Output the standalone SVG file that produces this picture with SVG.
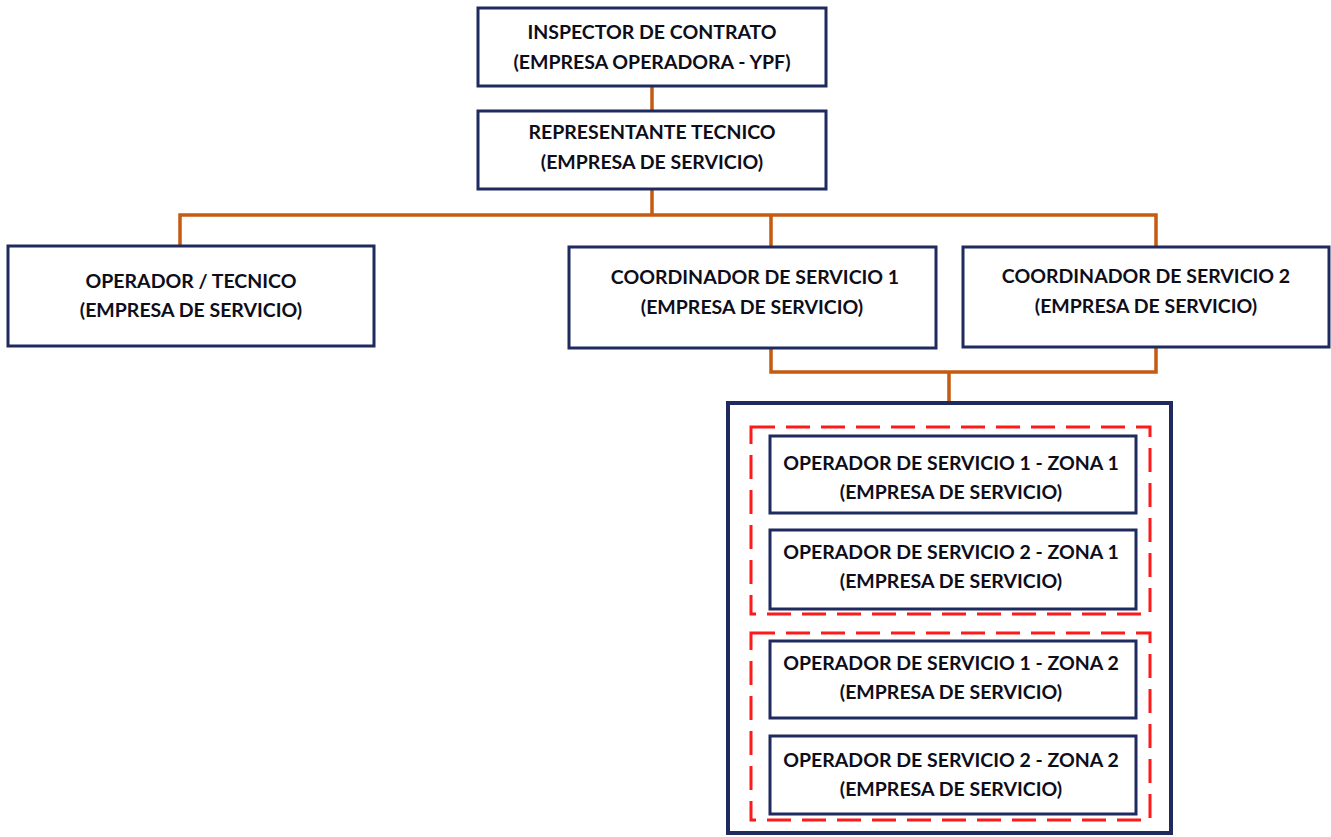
<svg xmlns="http://www.w3.org/2000/svg" width="1331" height="837" viewBox="0 0 1331 837">
  <style>
    .box { fill: #ffffff; stroke: #1f2a5e; stroke-width: 3; }
    .outer { fill: #ffffff; stroke: #1f2a5e; stroke-width: 4; }
    .zone { fill: none; stroke: #ff1a1a; stroke-width: 3; stroke-dasharray: 24 11; }
    .link { fill: none; stroke: #c55a11; stroke-width: 3.5; }
    text { font-family: Lato, "Open Sans", sans-serif; font-weight: bold; font-size: 19.5px; fill: #0e0e1a; text-anchor: middle; }
  </style>
  <rect width="1331" height="837" fill="#ffffff"/>

  <g id="connectors">
    <path class="link" d="M652 86 V111"/>
    <path class="link" d="M652 189 V215 M180 246 V215 H1156 V247 M771 215 V247"/>
    <path class="link" d="M771 348 V372 H1156 V347 M949 372 V403"/>
  </g>

  <g id="inspector">
    <rect class="box" x="478" y="8" width="348" height="78"/>
    <text x="652" y="39">INSPECTOR DE CONTRATO</text>
    <text x="652" y="69">(EMPRESA OPERADORA - YPF)</text>
  </g>
  <g id="representante">
    <rect class="box" x="478" y="111" width="348" height="78"/>
    <text x="652" y="139">REPRESENTANTE TECNICO</text>
    <text x="652" y="169">(EMPRESA DE SERVICIO)</text>
  </g>
  <g id="operador-tecnico">
    <rect class="box" x="8" y="246" width="366" height="100"/>
    <text x="191" y="288">OPERADOR / TECNICO</text>
    <text x="191" y="317">(EMPRESA DE SERVICIO)</text>
  </g>
  <g id="coordinador-1">
    <rect class="box" x="569" y="247" width="367" height="101"/>
    <text x="755" y="284">COORDINADOR DE SERVICIO 1</text>
    <text x="752" y="314">(EMPRESA DE SERVICIO)</text>
  </g>
  <g id="coordinador-2">
    <rect class="box" x="963" y="247" width="366" height="100"/>
    <text x="1146" y="283">COORDINADOR DE SERVICIO 2</text>
    <text x="1146" y="313">(EMPRESA DE SERVICIO)</text>
  </g>

  <g id="operadores">
    <rect class="outer" x="728" y="403" width="443" height="430"/>
    <g id="zona-1">
      <rect class="zone" x="751" y="427" width="399" height="187"/>
      <g id="operador-1-zona-1">
        <rect class="box" x="770" y="436" width="366" height="77"/>
        <text x="951" y="470">OPERADOR DE SERVICIO 1 - ZONA 1</text>
        <text x="951" y="499">(EMPRESA DE SERVICIO)</text>
      </g>
      <g id="operador-2-zona-1">
        <rect class="box" x="770" y="530" width="366" height="79"/>
        <text x="951" y="559">OPERADOR DE SERVICIO 2 - ZONA 1</text>
        <text x="951" y="588">(EMPRESA DE SERVICIO)</text>
      </g>
    </g>
    <g id="zona-2">
      <rect class="zone" x="751" y="633" width="399" height="187"/>
      <g id="operador-1-zona-2">
        <rect class="box" x="770" y="641" width="366" height="77"/>
        <text x="951" y="670">OPERADOR DE SERVICIO 1 - ZONA 2</text>
        <text x="951" y="699">(EMPRESA DE SERVICIO)</text>
      </g>
      <g id="operador-2-zona-2">
        <rect class="box" x="770" y="736" width="366" height="78"/>
        <text x="951" y="767">OPERADOR DE SERVICIO 2 - ZONA 2</text>
        <text x="951" y="796">(EMPRESA DE SERVICIO)</text>
      </g>
    </g>
  </g>
</svg>
